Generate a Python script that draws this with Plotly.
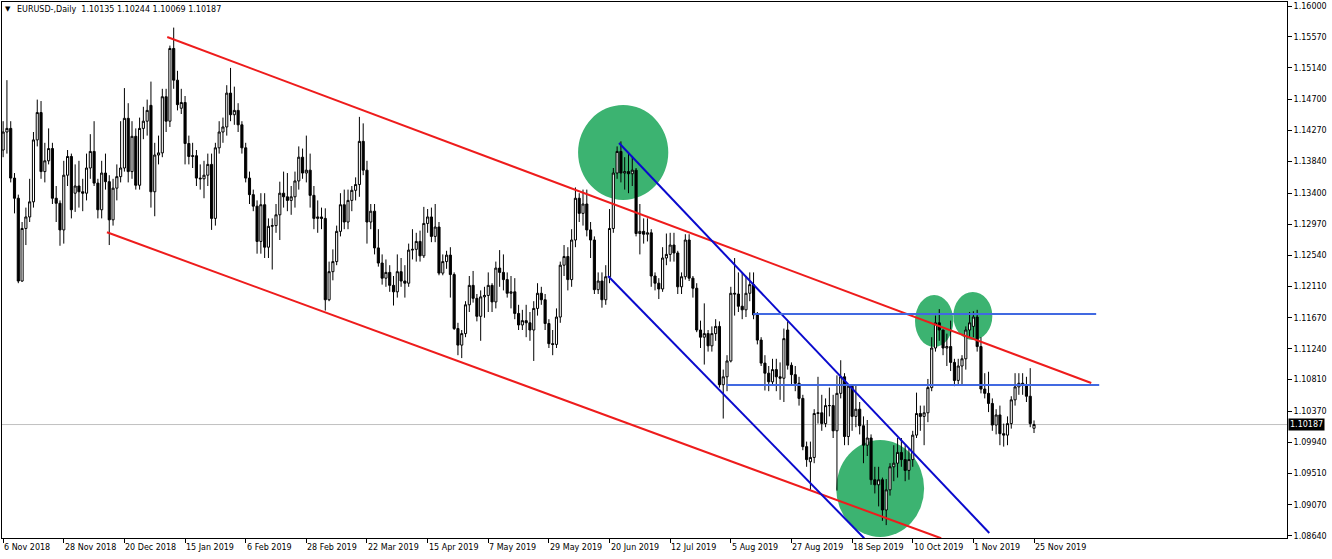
import plotly.graph_objects as go

# ---------------- data ----------------
tick_labels = ["6 Nov 2018", "28 Nov 2018", "20 Dec 2018", "15 Jan 2019", "6 Feb 2019",
               "28 Feb 2019", "22 Mar 2019", "15 Apr 2019", "7 May 2019", "29 May 2019",
               "20 Jun 2019", "12 Jul 2019", "5 Aug 2019", "27 Aug 2019", "18 Sep 2019",
               "10 Oct 2019", "1 Nov 2019", "25 Nov 2019"]
bars_per_label = 16

price_ticks = [1.16000, 1.15570, 1.15140, 1.14700, 1.14270, 1.13840, 1.13400, 1.12970,
               1.12540, 1.12110, 1.11670, 1.11240, 1.10810, 1.10370, 1.09940, 1.09510,
               1.09070, 1.08640]

opens = [
    1.1400, 1.1425, 1.1430, 1.1361, 1.1333, 1.1218, 1.1291, 1.1307, 1.1328, 1.1414,
    1.1452, 1.1370, 1.1385, 1.1402, 1.1333, 1.1326, 1.1289, 1.1365, 1.1391, 1.1340,
    1.1350, 1.1342, 1.1340, 1.1375, 1.1398, 1.1354, 1.1317, 1.1368, 1.1356, 1.1303,
    1.1347, 1.1363, 1.1375, 1.1444, 1.1370, 1.1419, 1.1351, 1.1430, 1.1440, 1.1462,
    1.1342, 1.1393, 1.1396, 1.1474, 1.1440, 1.1541, 1.1497, 1.1458, 1.1466, 1.1409,
    1.1391, 1.1392, 1.1361, 1.1360, 1.1365, 1.1380, 1.1305, 1.1403, 1.1425, 1.1432,
    1.1479, 1.1449, 1.1455, 1.1435, 1.1403, 1.1361, 1.1338, 1.1322, 1.1273, 1.1324,
    1.1265, 1.1294, 1.1295, 1.1310, 1.1340, 1.1335, 1.1330, 1.1335, 1.1357, 1.1390,
    1.1368, 1.1372, 1.1337, 1.1305, 1.1307, 1.1305, 1.1192, 1.1231, 1.1245, 1.1287,
    1.1324, 1.1300, 1.1330, 1.1344, 1.1352, 1.1412, 1.1372, 1.1300, 1.1315, 1.1264,
    1.1243, 1.1222, 1.1230, 1.1212, 1.1203, 1.1231, 1.1218, 1.1215, 1.1261, 1.1262,
    1.1273, 1.1253, 1.1298, 1.1307, 1.1280, 1.1293, 1.1229, 1.1245, 1.1254, 1.1227,
    1.1152, 1.1129, 1.1145, 1.1185, 1.1212, 1.1194, 1.1169, 1.1196, 1.1198, 1.1212,
    1.1189, 1.1236, 1.1230, 1.1220, 1.1201, 1.1203, 1.1173, 1.1157, 1.1163, 1.1160,
    1.1150, 1.1180, 1.1201, 1.1192, 1.1159, 1.1131, 1.1130, 1.1168, 1.1240, 1.1252,
    1.1220, 1.1275, 1.1333, 1.1312, 1.1325, 1.1289, 1.1275, 1.1206, 1.1218, 1.1192,
    1.1224, 1.1291, 1.1368, 1.1398, 1.1368, 1.1370, 1.1367, 1.1372, 1.1284, 1.1287,
    1.1283, 1.1285, 1.1225, 1.1215, 1.1207, 1.1250, 1.1255, 1.1268, 1.1257, 1.1210,
    1.1224, 1.1275, 1.1222, 1.1208, 1.1150, 1.1140, 1.1145, 1.1128, 1.1145, 1.1155,
    1.1074, 1.1085, 1.1107, 1.1201, 1.1200, 1.1183, 1.1178, 1.1201, 1.1213, 1.1171,
    1.1136, 1.1104, 1.1090, 1.1078, 1.1095, 1.1085, 1.1083, 1.1150, 1.1101, 1.1088,
    1.1076, 1.1055, 1.0988, 1.0967, 1.0973, 1.1034, 1.1035, 1.1020, 1.1045, 1.1045,
    1.1010, 1.1062, 1.1085, 1.1002, 1.1072, 1.1030, 1.1040, 1.1017, 1.0990, 1.1000,
    1.0942, 1.0935, 1.0942, 1.0900, 1.0928, 1.0960, 1.0965, 1.0980, 1.0970, 1.0955,
    1.0970, 1.1004, 1.1034, 1.1030, 1.1035, 1.1070, 1.1125, 1.1160, 1.1150, 1.1125,
    1.1127, 1.1105, 1.1080, 1.1100, 1.1110, 1.1150, 1.1155, 1.1168, 1.1127, 1.1068,
    1.1062, 1.1048, 1.1018, 1.1032, 1.1006, 1.1004, 1.1020, 1.1053, 1.1071, 1.1076,
    1.1074, 1.1058, 1.10135]

highs = [
    1.1440, 1.1497, 1.1440, 1.1368, 1.1338, 1.1300, 1.1320, 1.1360, 1.1425, 1.1470,
    1.1468, 1.1410, 1.1430, 1.1410, 1.1350, 1.1330, 1.1385, 1.1400, 1.1395, 1.1380,
    1.1385, 1.1360, 1.1395, 1.1422, 1.1440, 1.1360, 1.1385, 1.1395, 1.1365, 1.1360,
    1.1380, 1.1440, 1.1486, 1.1465, 1.1440, 1.1430, 1.1445, 1.1460, 1.1470, 1.1495,
    1.1410, 1.1420, 1.1485, 1.1485, 1.1545, 1.1570, 1.1510, 1.1485, 1.1475, 1.1420,
    1.1410, 1.1400, 1.1380, 1.1385, 1.1395, 1.1395, 1.1410, 1.1440, 1.1445, 1.1490,
    1.1514, 1.1488, 1.1465, 1.1440, 1.1410, 1.1370, 1.1345, 1.1330, 1.1340, 1.1340,
    1.1305, 1.1305, 1.1325, 1.1356, 1.1370, 1.1368, 1.1350, 1.1370, 1.1405, 1.1402,
    1.1420, 1.1395, 1.1350, 1.1330, 1.1320, 1.1319, 1.1245, 1.1262, 1.1295, 1.1340,
    1.1345, 1.1345, 1.1350, 1.1362, 1.1446, 1.1437, 1.1385, 1.1325, 1.1325, 1.1290,
    1.1255, 1.1248, 1.1240, 1.1225, 1.1255, 1.1250, 1.1240, 1.1270, 1.1290, 1.1285,
    1.1288, 1.1321, 1.1318, 1.1320, 1.1325, 1.1300, 1.1255, 1.1260, 1.1265, 1.1230,
    1.1160, 1.1150, 1.1190, 1.1225, 1.1232, 1.1200, 1.1205, 1.1210, 1.1230, 1.1215,
    1.1245, 1.1261, 1.1255, 1.1230, 1.1225, 1.1222, 1.1185, 1.1178, 1.1185, 1.1175,
    1.1190, 1.1215, 1.1210, 1.1200, 1.1165, 1.1150, 1.1180, 1.1245, 1.1268, 1.1265,
    1.1290, 1.1348, 1.1340, 1.1345, 1.1345, 1.1300, 1.1280, 1.1230, 1.1230, 1.1240,
    1.1318, 1.1375, 1.1405, 1.1412, 1.1390, 1.1395, 1.1390, 1.1375, 1.1325, 1.1305,
    1.1305, 1.1290, 1.1230, 1.1222, 1.1265, 1.1284, 1.1285, 1.1285, 1.1260, 1.1230,
    1.1283, 1.1283, 1.1225, 1.1215, 1.1163, 1.1187, 1.1150, 1.1155, 1.1165, 1.1162,
    1.1095, 1.1115, 1.1210, 1.1250, 1.1230, 1.1230, 1.1225, 1.1230, 1.1230, 1.1175,
    1.1140, 1.1115, 1.1100, 1.1110, 1.1110, 1.1105, 1.1152, 1.1162, 1.1105, 1.1100,
    1.1085, 1.1060, 1.0995, 1.0995, 1.1040, 1.1085, 1.1060, 1.1055, 1.1070, 1.1060,
    1.1087, 1.1108, 1.1090, 1.1075, 1.1075, 1.1075, 1.1050, 1.1030, 1.1025, 1.1005,
    1.0960, 1.0960, 1.0945, 1.0943, 1.0965, 1.0990, 1.1000, 1.1000, 1.0990, 1.0985,
    1.1010, 1.1063, 1.1045, 1.1045, 1.1082, 1.1140, 1.1170, 1.1179, 1.1150, 1.1145,
    1.1163, 1.1110, 1.1110, 1.1115, 1.1155, 1.1175, 1.1176, 1.1178, 1.1140, 1.1090,
    1.1092, 1.1055, 1.1040, 1.1045, 1.1020, 1.1030, 1.1058, 1.1090, 1.1090, 1.1090,
    1.1085, 1.1097, 1.10244]

lows = [
    1.1390, 1.1395, 1.1355, 1.1312, 1.1215, 1.1217, 1.1268, 1.1300, 1.1320, 1.1405,
    1.1360, 1.1355, 1.1380, 1.1325, 1.1300, 1.1267, 1.1270, 1.1350, 1.1305, 1.1314,
    1.1320, 1.1315, 1.1330, 1.1360, 1.1350, 1.1305, 1.1305, 1.1345, 1.1268, 1.1295,
    1.1330, 1.1355, 1.1370, 1.1355, 1.1360, 1.1345, 1.1345, 1.1415, 1.1420, 1.1320,
    1.1308, 1.1380, 1.1390, 1.1425, 1.1432, 1.1485, 1.1455, 1.1450, 1.1380, 1.1380,
    1.1375, 1.1350, 1.1345, 1.1333, 1.1350, 1.1289, 1.1295, 1.1395, 1.1410, 1.1420,
    1.1440, 1.1435, 1.1425, 1.1395, 1.1355, 1.1325, 1.1315, 1.1256, 1.1256, 1.1250,
    1.1250, 1.1234, 1.1285, 1.1275, 1.1320, 1.1315, 1.1310, 1.1320, 1.1345, 1.1360,
    1.1355, 1.1320, 1.1290, 1.1285, 1.1290, 1.1177, 1.1190, 1.1219, 1.1240, 1.1280,
    1.1290, 1.1290, 1.1315, 1.1330, 1.1335, 1.1365, 1.1270, 1.1290, 1.1255, 1.1238,
    1.1213, 1.1210, 1.1203, 1.1184, 1.1195, 1.1210, 1.1195, 1.1210, 1.1248, 1.1245,
    1.1245, 1.1250, 1.1285, 1.1272, 1.1272, 1.1226, 1.1226, 1.1235, 1.1195, 1.1150,
    1.1115, 1.1111, 1.1140, 1.1175, 1.1188, 1.1162, 1.1135, 1.1167, 1.1175, 1.1175,
    1.1180, 1.1210, 1.1205, 1.1195, 1.1180, 1.1165, 1.1150, 1.1150, 1.1140, 1.1135,
    1.1107, 1.1170, 1.1185, 1.1150, 1.1125, 1.1115, 1.1125, 1.1160, 1.1225, 1.1205,
    1.1210, 1.1265, 1.1300, 1.1295, 1.1280, 1.1250, 1.1200, 1.1200, 1.1181, 1.1185,
    1.1215, 1.1285, 1.1360, 1.1355, 1.1345, 1.1340, 1.1350, 1.1280, 1.1255, 1.1270,
    1.1273, 1.1210, 1.1205, 1.1193, 1.1203, 1.1240, 1.1245, 1.1245, 1.1200, 1.1200,
    1.1220, 1.1218, 1.1195, 1.1147, 1.1125, 1.1102, 1.1120, 1.1120, 1.1135, 1.1070,
    1.1027, 1.1065, 1.1105, 1.1170, 1.1175, 1.1165, 1.1168, 1.1190, 1.1165, 1.1130,
    1.1100, 1.1066, 1.1065, 1.1075, 1.1065, 1.1053, 1.1050, 1.1095, 1.1075, 1.1065,
    1.1045, 1.0983, 1.0960, 1.0927, 1.0965, 1.1020, 1.1010, 1.1015, 1.1030, 1.1000,
    1.0927, 1.1055, 1.0990, 1.0990, 1.1010, 1.1015, 1.1005, 1.0965, 1.0975, 1.0935,
    1.0923, 1.0905, 1.0885, 1.0879, 1.0920, 1.0940, 1.0945, 1.0960, 1.0940, 1.0942,
    1.0960, 1.1000, 1.1010, 1.0990, 1.1022, 1.1065, 1.1120, 1.1135, 1.1115, 1.1100,
    1.1093, 1.1072, 1.1075, 1.1073, 1.1095, 1.1140, 1.1140, 1.1120, 1.1062, 1.1055,
    1.1036, 1.1010, 1.1005, 1.0990, 1.0988, 1.0990, 1.1013, 1.1045, 1.1060, 1.1060,
    1.1050, 1.1015, 1.10069]

closes = [
    1.1425, 1.1430, 1.1361, 1.1333, 1.1218, 1.1291, 1.1307, 1.1328, 1.1414, 1.1452,
    1.1370, 1.1385, 1.1402, 1.1333, 1.1326, 1.1289, 1.1365, 1.1391, 1.1317, 1.1350,
    1.1342, 1.1340, 1.1375, 1.1398, 1.1354, 1.1317, 1.1368, 1.1356, 1.1303, 1.1347,
    1.1363, 1.1375, 1.1444, 1.1370, 1.1419, 1.1351, 1.1430, 1.1440, 1.1455, 1.1342,
    1.1393, 1.1396, 1.1474, 1.1440, 1.1541, 1.1497, 1.1463, 1.1466, 1.1409, 1.1391,
    1.1392, 1.1361, 1.1360, 1.1365, 1.1380, 1.1305, 1.1403, 1.1425, 1.1432, 1.1479,
    1.1449, 1.1455, 1.1435, 1.1403, 1.1361, 1.1338, 1.1322, 1.1273, 1.1324, 1.1265,
    1.1294, 1.1295, 1.1310, 1.1340, 1.1335, 1.1330, 1.1335, 1.1357, 1.1390, 1.1368,
    1.1372, 1.1337, 1.1305, 1.1307, 1.1305, 1.1192, 1.1231, 1.1245, 1.1287, 1.1324,
    1.1300, 1.1330, 1.1344, 1.1352, 1.1412, 1.1372, 1.1300, 1.1315, 1.1264, 1.1243,
    1.1222, 1.1230, 1.1212, 1.1203, 1.1231, 1.1218, 1.1215, 1.1261, 1.1262, 1.1273,
    1.1253, 1.1298, 1.1307, 1.1280, 1.1293, 1.1229, 1.1245, 1.1254, 1.1227, 1.1152,
    1.1129, 1.1145, 1.1185, 1.1212, 1.1194, 1.1169, 1.1196, 1.1198, 1.1212, 1.1189,
    1.1236, 1.1230, 1.1220, 1.1201, 1.1203, 1.1173, 1.1157, 1.1163, 1.1160, 1.1150,
    1.1180, 1.1201, 1.1192, 1.1159, 1.1131, 1.1130, 1.1168, 1.1240, 1.1252, 1.1220,
    1.1275, 1.1333, 1.1312, 1.1325, 1.1289, 1.1275, 1.1206, 1.1218, 1.1192, 1.1224,
    1.1291, 1.1368, 1.1398, 1.1368, 1.1370, 1.1367, 1.1372, 1.1284, 1.1287, 1.1283,
    1.1285, 1.1225, 1.1215, 1.1207, 1.1250, 1.1255, 1.1268, 1.1257, 1.1210, 1.1224,
    1.1275, 1.1222, 1.1208, 1.1150, 1.1140, 1.1145, 1.1128, 1.1145, 1.1155, 1.1074,
    1.1085, 1.1107, 1.1201, 1.1200, 1.1183, 1.1178, 1.1201, 1.1213, 1.1171, 1.1136,
    1.1104, 1.1090, 1.1078, 1.1095, 1.1085, 1.1083, 1.1138, 1.1101, 1.1088, 1.1076,
    1.1055, 1.0988, 1.0970, 1.0973, 1.1034, 1.1035, 1.1020, 1.1045, 1.1045, 1.1010,
    1.1062, 1.1085, 1.1002, 1.1072, 1.1030, 1.1040, 1.1017, 1.0990, 1.1000, 1.0942,
    1.0935, 1.0942, 1.0900, 1.0928, 1.0960, 1.0965, 1.0980, 1.0970, 1.0955, 1.0970,
    1.1004, 1.1034, 1.1030, 1.1035, 1.1070, 1.1125, 1.1160, 1.1150, 1.1125, 1.1127,
    1.1105, 1.1080, 1.1100, 1.1110, 1.1150, 1.1160, 1.1168, 1.1127, 1.1068, 1.1062,
    1.1048, 1.1018, 1.1032, 1.1006, 1.1004, 1.1020, 1.1053, 1.1071, 1.1076, 1.1074,
    1.1058, 1.1020, 1.10187]

symbol_title = "EURUSD-,Daily"
last_price = 1.10187

# chart objects anchored in (bar number, price)
red_channel = [((43.3, 1.15569), (287.1, 1.10764)),
               ((27.4, 1.12857), (247.5, 1.08607))]
blue_channel = [((162.5, 1.14097), (260.2, 1.08681)),
                ((159.6, 1.12250), (227.2, 1.08607))]
levels = [(197.9, 288.4, 1.11722), (190.8, 289.2, 1.10736)]
ellipses = [(151.7, 175.5, 1.13306, 1.14625),
            (219.8, 243.0, 1.08625, 1.09972),
            (240.6, 250.7, 1.11264, 1.11986),
            (250.7, 261.0, 1.11361, 1.12028)]

# ---------------- figure ----------------
FONT = "DejaVu Sans, Verdana, sans-serif"
bar_no = list(range(len(closes)))
tick_pos = [k * bars_per_label for k in range(len(tick_labels))]

fig = go.Figure()
fig.add_trace(go.Candlestick(
    x=bar_no, open=opens, high=highs, low=lows, close=closes,
    increasing=dict(line=dict(color="black", width=1), fillcolor="white"),
    decreasing=dict(line=dict(color="black", width=1), fillcolor="black"),
    whiskerwidth=0, showlegend=False, hoverinfo="skip"))

shapes = []
shapes.append(dict(type="line", xref="paper", x0=0, x1=1, yref="y", y0=last_price, y1=last_price,
                   line=dict(color="#C0C0C0", width=1), layer="below"))
for (x0, x1, y0, y1) in ellipses:
    shapes.append(dict(type="circle", xref="x", yref="y", x0=x0, x1=x1, y0=y0, y1=y1,
                       fillcolor="#3CB371", line=dict(width=0), layer="below"))
for (a, b) in red_channel:
    shapes.append(dict(type="line", xref="x", yref="y", x0=a[0], y0=a[1], x1=b[0], y1=b[1],
                       line=dict(color="#EE1C1C", width=2)))
for (a, b) in blue_channel:
    shapes.append(dict(type="line", xref="x", yref="y", x0=a[0], y0=a[1], x1=b[0], y1=b[1],
                       line=dict(color="#0A0ACD", width=2)))
for (x0, x1, lv) in levels:
    shapes.append(dict(type="line", xref="x", yref="y", x0=x0, y0=lv, x1=x1, y1=lv,
                       line=dict(color="#4169E1", width=2)))

annotations = []
for pos, lab in zip(tick_pos, tick_labels):
    annotations.append(dict(x=pos, xref="x", y=0, yref="paper", text=lab, showarrow=False,
                            xanchor="left", yanchor="top", xshift=-1, yshift=-3,
                            font=dict(family=FONT, size=8, color="black")))
annotations.append(dict(x=0, xref="paper", y=1, yref="paper", text="▼", showarrow=False,
                        xanchor="left", yanchor="top", xshift=1, yshift=-1,
                        font=dict(family=FONT, size=7, color="black")))
annotations.append(dict(x=0, xref="paper", y=1, yref="paper",
                        text=f"{symbol_title}  {opens[-1]:.5f} {highs[-1]:.5f} {lows[-1]:.5f} {closes[-1]:.5f}",
                        showarrow=False, xanchor="left", yanchor="top", xshift=13, yshift=-1,
                        font=dict(family=FONT, size=8, color="black")))
annotations.append(dict(x=1, xref="paper", y=last_price, yref="y", text=f"{last_price:.5f}",
                        showarrow=False, xanchor="left", yanchor="middle", xshift=1,
                        bgcolor="black", borderpad=1,
                        font=dict(family=FONT, size=8, color="white")))

fig.update_layout(
    width=1332, height=559,
    margin=dict(l=2, r=45, t=2, b=21),
    paper_bgcolor="white", plot_bgcolor="white",
    boxgap=0.2,
    shapes=shapes, annotations=annotations,
    xaxis=dict(range=[-0.3, 338.75], tickvals=tick_pos, showticklabels=False,
               ticks="outside", ticklen=4, tickcolor="black",
               showline=True, mirror=True, linecolor="black", linewidth=1,
               showgrid=False, zeroline=False, rangeslider=dict(visible=False)),
    yaxis=dict(range=[1.086111, 1.160556], side="right", tickvals=price_ticks,
               ticktext=[f"{v:.5f}" for v in price_ticks],
               ticks="outside", ticklen=4, tickcolor="black",
               tickfont=dict(family=FONT, size=8, color="black"),
               showline=True, mirror=True, linecolor="black", linewidth=1,
               showgrid=False, zeroline=False),
)

fig.write_html("out.html", config={"displayModeBar": False},
               post_script="document.body.style.margin='0px';document.body.style.overflow='hidden';")
